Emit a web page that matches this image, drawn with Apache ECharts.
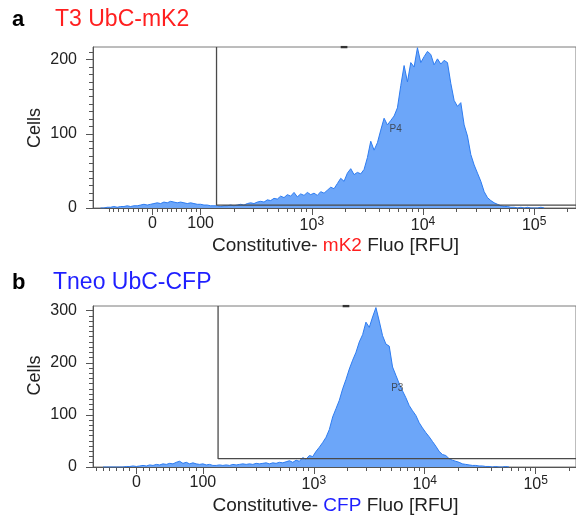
<!DOCTYPE html>
<html>
<head>
<meta charset="utf-8">
<script src="https://cdn.jsdelivr.net/npm/echarts@6/dist/echarts.min.js"></script>
<style>
  html, body { margin: 0; padding: 0; background: #fff; }
  #chart { width: 576px; height: 518px; }
</style>
</head>
<body>
<div id="chart"></div>
<script>
// Histogram bins sit on the biexponential display scale (units: decades, 10^3 -> 3)
const binStart = 1.10;
const binStep = 0.03;

// Cells per bin, T3 UbC-mK2
const mk2Counts = [
  0, 0, 1, 1, 2, 1, 2, 2, 3, 2,
  3, 3, 4, 5, 4, 5, 6, 7, 6, 8,
  7, 9, 8, 7, 8, 7, 6, 7, 6, 5,
  5, 4, 4, 3, 3, 3, 2, 3, 3, 4,
  3, 4, 5, 4, 6, 7, 6, 8, 9, 8,
  11, 10, 13, 12, 16, 14, 18, 16, 21, 15,
  19, 17, 21, 18, 20, 17, 22, 20, 24, 28,
  26, 33, 40, 36, 47, 53, 45, 48, 46, 52,
  68, 90, 78, 88, 105, 121, 112, 118, 124, 135,
  165, 192, 170, 196, 190, 216, 196, 204, 211, 207,
  193, 201, 194, 199, 196, 168, 145, 137, 142, 112,
  97, 72, 58, 47, 36, 22, 14, 10, 7, 5,
  3, 2, 2, 1, 1, 0, 1, 0, 1, 0,
  0, 0, 1, 0
];

// Cells per bin, Tneo UbC-CFP
const cfpCounts = [
  0, 0, 0, 0, 0, 0, 0, 1, 1, 2,
  1, 2, 3, 2, 4, 3, 5, 4, 6, 5,
  7, 6, 9, 11, 7, 9, 6, 8, 6, 5,
  6, 4, 5, 3, 3, 4, 3, 4, 3, 5,
  4, 5, 6, 5, 6, 5, 7, 6, 7, 8,
  6, 8, 7, 9, 8, 10, 12, 9, 13, 11,
  18, 15, 22, 20, 30, 38, 47, 57, 72, 96,
  112, 128, 150, 168, 188, 205, 220, 240, 254, 278,
  268, 288, 306, 280, 252, 236, 232, 192, 176, 160,
  146, 133, 118, 108, 99, 85, 75, 66, 58, 49,
  40, 30, 24, 22, 16, 13, 11, 9, 6, 5,
  4, 3, 3, 2, 2, 1, 1, 0, 1, 0,
  0, 1, 0
];

// Axis ticks in RFU
const majorTickRFU = [0, 100, 1000, 10000, 100000];
const majorTickText = ['0', '100', '10{s|3}', '10{s|4}', '10{s|5}'];
const minorTickRFU = [
  -90, -80, -70, -60, -50, -40, -30, -20, -10,
  10, 20, 30, 40, 50, 60, 70, 80, 90,
  200, 300, 400, 500, 600, 700, 800, 900,
  2000, 3000, 4000, 5000, 6000, 7000, 8000, 9000,
  20000, 30000, 40000, 50000, 60000, 70000, 80000, 90000,
  200000
];

// Cell-count axes
const mk2YMax = 217;
const cfpYMax = 309;
const mk2YMajor = [0, 100, 200];
const cfpYMajor = [0, 100, 200, 300];

// Gates: left edge in RFU, lower edge in cells, name and label anchor
const mk2Gate = { name: 'P4', leftRFU: 139, lowCells: 4, labelRFU: 5680, labelCells: 106 };
const cfpGate = { name: 'P3', leftRFU: 137, lowCells: 16, labelRFU: 5660, labelCells: 152 };

// Biexponential display transform: linear below linearTop, log10 above
const mk2Scale = { linearTop: 100, linearSlope: 0.004343, min: 1.032, max: 5.376 };
const cfpScale = { linearTop: 100, linearSlope: 0.006, min: 1.009, max: 5.364 };

function toDisplay(v, sc) {
  if (v >= sc.linearTop) return Math.log10(v);
  return Math.log10(sc.linearTop) - (sc.linearTop - v) * sc.linearSlope;
}

const FONT = '"Liberation Sans", Arial, sans-serif';
const AXIS_COLOR = '#555';
const FRAME_COLOR = '#7a7a7a';
const TEXT_COLOR = '#222';
const FILL_COLOR = '#6ca6f9';
const EDGE_COLOR = '#2e7cf0';

function minorY(max) {
  const out = [];
  for (let v = 10; v < max; v += 10) if (v % 100 !== 0) out.push(v);
  return out;
}

function xAxesFor(gridIndex, sc) {
  const majorD = majorTickRFU.map(v => toDisplay(v, sc));
  const minorD = minorTickRFU.map(v => toDisplay(v, sc)).filter(d => d > sc.min && d < sc.max);
  return [
    {
      gridIndex, type: 'value', position: 'bottom', min: sc.min, max: sc.max,
      axisLine: { show: true, lineStyle: { color: AXIS_COLOR, width: 1 } },
      axisTick: { show: true, length: 7, customValues: majorD, lineStyle: { color: AXIS_COLOR } },
      axisLabel: {
        show: true, customValues: majorD, margin: 8,
        fontSize: 16, fontFamily: FONT, color: TEXT_COLOR,
        formatter: val => {
          const i = majorD.findIndex(d => Math.abs(d - val) < 1e-6);
          return i >= 0 ? majorTickText[i] : '';
        },
        rich: { s: { fontSize: 12, fontFamily: FONT, color: TEXT_COLOR, verticalAlign: 'top', padding: [0, 0, 7, 0] } }
      },
      splitLine: { show: false }
    },
    {
      gridIndex, type: 'value', position: 'bottom', min: sc.min, max: sc.max,
      axisLine: { show: false },
      axisTick: { show: true, length: 4, customValues: minorD, lineStyle: { color: AXIS_COLOR } },
      axisLabel: { show: false },
      splitLine: { show: false }
    }
  ];
}

function yAxesFor(gridIndex, max, major) {
  return [
    {
      gridIndex, type: 'value', position: 'left', min: 0, max,
      axisLine: { show: true, lineStyle: { color: AXIS_COLOR, width: 1 } },
      axisTick: { show: true, length: 7, customValues: major, lineStyle: { color: AXIS_COLOR } },
      axisLabel: { show: true, customValues: major, margin: 16, fontSize: 16, fontFamily: FONT, color: TEXT_COLOR },
      splitLine: { show: false }
    },
    {
      gridIndex, type: 'value', position: 'left', min: 0, max,
      axisLine: { show: false },
      axisTick: { show: true, length: 4, customValues: minorY(max), lineStyle: { color: AXIS_COLOR } },
      axisLabel: { show: false },
      splitLine: { show: false }
    }
  ];
}

function seriesFor(axisIndex, counts, sc, yMax, gate) {
  const hist = counts.map((c, i) => [binStart + i * binStep, c]);
  const gx = toDisplay(gate.leftRFU, sc);
  return [
    {
      type: 'line', xAxisIndex: axisIndex, yAxisIndex: axisIndex,
      data: hist, showSymbol: false, symbol: 'none', animation: false,
      lineStyle: { color: EDGE_COLOR, width: 1 },
      areaStyle: { color: FILL_COLOR, opacity: 1 },
      z: 2
    },
    {
      type: 'line', xAxisIndex: axisIndex, yAxisIndex: axisIndex,
      data: [[gx, yMax], [gx, gate.lowCells], [sc.max, gate.lowCells]],
      showSymbol: false, symbol: 'none', animation: false,
      lineStyle: { color: '#4a4a4a', width: 1.3 },
      z: 3
    },
    {
      type: 'line', xAxisIndex: axisIndex, yAxisIndex: axisIndex,
      data: [[3.26, yMax], [3.32, yMax]],
      showSymbol: false, symbol: 'none', animation: false,
      lineStyle: { color: '#333', width: 2.5 },
      z: 4
    },
    {
      type: 'scatter', xAxisIndex: axisIndex, yAxisIndex: axisIndex,
      data: [[toDisplay(gate.labelRFU, sc), gate.labelCells, gate.name]],
      symbol: 'circle', symbolSize: 1, animation: false,
      itemStyle: { color: 'rgba(0,0,0,0)' },
      label: {
        show: true, position: 'inside', formatter: p => p.value[2],
        fontSize: 10, fontFamily: FONT, color: '#333'
      },
      z: 5
    }
  ];
}

const chart = echarts.init(document.getElementById('chart'), null, { renderer: 'canvas' });

const option = {
  animation: false,
  backgroundColor: '#fff',
  grid: [
    { left: 93, top: 47, width: 490, height: 161, show: true, borderColor: FRAME_COLOR, borderWidth: 1, containLabel: false },
    { left: 93, top: 306, width: 490, height: 161, show: true, borderColor: FRAME_COLOR, borderWidth: 1, containLabel: false }
  ],
  xAxis: [...xAxesFor(0, mk2Scale), ...xAxesFor(1, cfpScale)],
  yAxis: [...yAxesFor(0, mk2YMax, mk2YMajor), ...yAxesFor(1, cfpYMax, cfpYMajor)],
  series: [
    ...seriesFor(0, mk2Counts, mk2Scale, mk2YMax, mk2Gate),
    ...seriesFor(2, cfpCounts, cfpScale, cfpYMax, cfpGate)
  ],
  graphic: [
    { type: 'text', x: 12, y: 19.5, style: { text: 'a', fontSize: 22, fontWeight: 'bold', fontFamily: FONT, fill: '#000', verticalAlign: 'middle' } },
    { type: 'text', x: 55, y: 19.5, style: { text: 'T3 UbC-mK2', fontSize: 23, fontFamily: FONT, fill: '#ff1f1f', verticalAlign: 'middle' } },
    { type: 'text', x: 12, y: 282.5, style: { text: 'b', fontSize: 22, fontWeight: 'bold', fontFamily: FONT, fill: '#000', verticalAlign: 'middle' } },
    { type: 'text', x: 53, y: 282.5, style: { text: 'Tneo UbC-CFP', fontSize: 23, fontFamily: FONT, fill: '#1f1fff', verticalAlign: 'middle' } },
    { type: 'text', x: 35, y: 128, rotation: Math.PI / 2, style: { text: 'Cells', fontSize: 18, fontFamily: FONT, fill: TEXT_COLOR, align: 'center', verticalAlign: 'middle' } },
    { type: 'text', x: 35, y: 375.5, rotation: Math.PI / 2, style: { text: 'Cells', fontSize: 18, fontFamily: FONT, fill: TEXT_COLOR, align: 'center', verticalAlign: 'middle' } },
    { type: 'text', x: 335.5, y: 245.5, style: {
        text: 'Constitutive- {r|mK2} Fluo [RFU]', fontSize: 19, fontFamily: FONT, fill: TEXT_COLOR,
        align: 'center', verticalAlign: 'middle',
        rich: { r: { fontSize: 19, fontFamily: FONT, fill: '#ff1f1f' } } } },
    { type: 'text', x: 335.5, y: 505.5, style: {
        text: 'Constitutive- {b|CFP} Fluo [RFU]', fontSize: 19, fontFamily: FONT, fill: TEXT_COLOR,
        align: 'center', verticalAlign: 'middle',
        rich: { b: { fontSize: 19, fontFamily: FONT, fill: '#1f1fff' } } } }
  ]
};

chart.setOption(option);
</script>
</body>
</html>
